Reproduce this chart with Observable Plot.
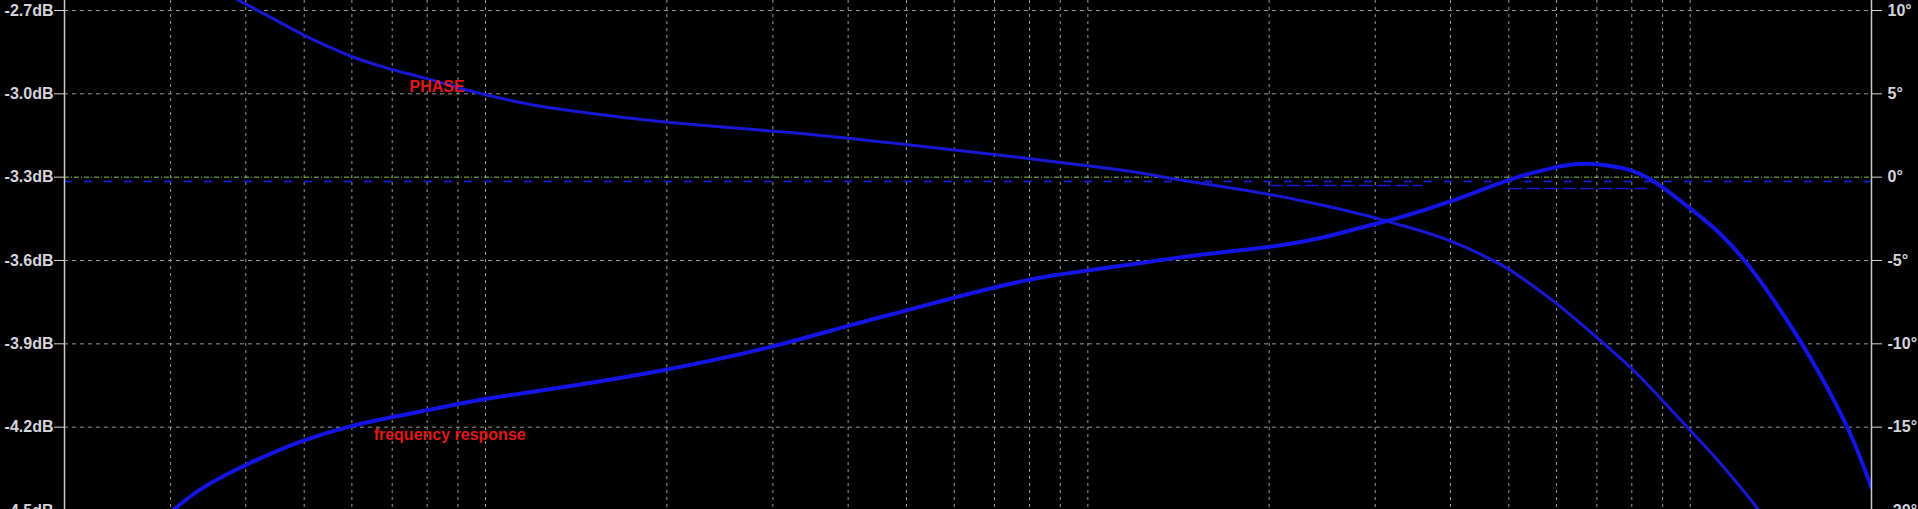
<!DOCTYPE html>
<html>
<head>
<meta charset="utf-8">
<script src="https://cdn.jsdelivr.net/npm/d3@7"></script>
<script src="https://cdn.jsdelivr.net/npm/@observablehq/plot@0.6"></script>
<style>
  html, body { margin: 0; padding: 0; background: #000; overflow: hidden; }
  #chart svg { display: block; }
</style>
</head>
<body>
<div id="chart"></div>
<script>
// ---- data ----
const gridFreqs = [30, 40, 50, 60, 70, 80, 90, 100, 200, 300, 400, 500, 600, 700, 800, 900,
                   1000, 2000, 3000, 4000, 5000, 6000, 7000, 8000, 9000, 10000];
const dbTicks = [-2.7, -3.0, -3.3, -3.6, -3.9, -4.2, -4.5];
const phaseTicks = [10, 5, 0, -5, -10, -15, -20];

const respFreq = [30, 33.6, 40.3, 49.3, 59.7, 72.3, 87.5, 100, 130.7, 200, 300, 400, 500, 600, 700, 800,
                  900, 1000, 1242, 1538, 2000, 2406, 3000, 3182, 4000, 5000, 6000, 6502, 7000, 8000, 8434,
                  9000, 10000, 11150, 12648, 14406, 16345, 18538, 20000];
const respDb = [-4.507, -4.417, -4.331, -4.248, -4.194, -4.158, -4.122, -4.097, -4.061, -3.996, -3.913,
                -3.834, -3.78, -3.733, -3.697, -3.668, -3.65, -3.636, -3.607, -3.578, -3.553, -3.525,
                -3.467, -3.456, -3.391, -3.305, -3.262, -3.251, -3.251, -3.272, -3.298, -3.334, -3.413,
                -3.492, -3.625, -3.805, -3.996, -4.223, -4.417];

const phaseFreq = [37.7, 39.5, 45.7, 49.9, 55.3, 60.1, 70.4, 78.0, 95.5, 114.3, 125.3, 168.2, 224.8, 329.6,
                   517.6, 800, 1242, 1321, 1863, 2406, 3000, 3182, 4000, 5000, 5188, 6000, 7000, 8000,
                   9000, 10000, 11150, 12648, 13600];
const phaseDeg = [10.90, 10.48, 9.28, 8.50, 7.78, 7.18, 6.40, 6.04, 5.08, 4.48, 4.18, 3.58, 3.10, 2.68,
                  1.90, 1.12, 0.28, -0.02, -0.80, -1.58, -2.42, -2.72, -3.68, -5.48, -5.90, -7.52, -9.62,
                  -11.42, -13.40, -15.2, -17.0, -19.4, -20.9];

// faint blue trace segments near the 0° reference
const traceFrom = [20, 2000, 5000];
const traceTo = [20000, 3600, 8500];
const traceDb = [-3.3155, -3.33, -3.341];

const labelNames = ["PHASE", "frequency response"];
const labelFreq = [74.8, 65.2];
const labelDb = [-2.974, -4.226];

// ---- helpers ----
const degToDb = d => -3.3 + d * 0.06;   // 0° ↔ -3.3 dB, 5° ↔ 0.3 dB
const resp = respFreq.map((f, i) => ({f, v: respDb[i]}));
const phase = phaseFreq.map((f, i) => ({f, v: degToDb(phaseDeg[i])}));
const traces = traceFrom.map((f1, i) => ({f1, f2: traceTo[i], v: traceDb[i]}));
const labels = labelNames.map((name, i) => ({name, f: labelFreq[i], v: labelDb[i]}));

const chart = Plot.plot({
  width: 1918,
  height: 509,
  marginLeft: 64,
  marginRight: 47,
  marginTop: 0,
  marginBottom: 0,
  style: {
    background: "#000",
    color: "#d4d4dc",
    fontFamily: "'Liberation Sans', Arial, sans-serif",
    fontSize: "16px",
    fontWeight: "bold",
    overflow: "visible"
  },
  x: {type: "log", domain: [20, 20000], axis: null},
  y: {domain: [-4.5, -2.7], range: [510, 10], axis: null, label: null},
  marks: [
    Plot.ruleX(gridFreqs, {stroke: "#9a9a9a", strokeWidth: 1, strokeDasharray: "3,4"}),
    Plot.ruleY(dbTicks.filter(d => d !== -3.3), {stroke: "#9a9a9a", strokeWidth: 1, strokeDasharray: "4,4"}),
    Plot.ruleY([traces[0]], {x1: "f1", x2: "f2", y: "v", stroke: "#1a1ac8", strokeWidth: 2, strokeDasharray: "8,12", clip: true}),
    Plot.ruleY(traces.slice(1), {x1: "f1", x2: "f2", y: "v", stroke: "#1a1ac8", strokeWidth: 1.5, strokeDasharray: "14,4"}),
    Plot.ruleY([-3.3], {stroke: "#7cc850", strokeWidth: 1, strokeDasharray: "5,2,1,2"}),
    Plot.line(phase, {x: "f", y: "v", stroke: "#1818d4", strokeWidth: 3, curve: "basis", clip: true}),
    Plot.line(resp, {x: "f", y: "v", stroke: "#1414e6", strokeWidth: 4, curve: "basis", clip: true}),
    Plot.ruleX([20, 20000], {stroke: "#c8c8c8", strokeWidth: 1.5}),
    Plot.axisY({
      anchor: "left", ticks: dbTicks, tickFormat: d => d.toFixed(1) + "dB",
      tickSize: 10, tickPadding: 1, label: null, stroke: "#d4d4dc", fill: "#d4d4dc"
    }),
    Plot.axisY({
      anchor: "right", ticks: phaseTicks.map(degToDb),
      tickFormat: d => Math.round((d + 3.3) / 0.06) + "°",
      tickSize: 10, tickPadding: 6, label: null, stroke: "#d4d4dc", fill: "#d4d4dc"
    }),
    Plot.text(labels, {
      x: "f", y: "v", text: "name", fill: "#e01818", textAnchor: "start",
      fontSize: 16, fontWeight: "bold"
    })
  ]
});
document.getElementById("chart").appendChild(chart);
</script>
</body>
</html>
